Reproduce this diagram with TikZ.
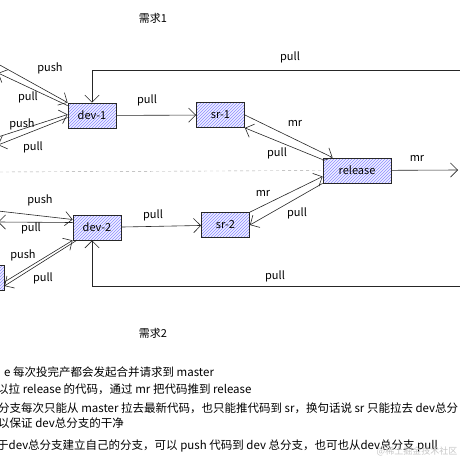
\documentclass[tikz,border=0pt]{standalone}
\usepackage{fontspec}
\setmainfont{Noto Sans CJK SC}
\usepackage{tikz}
\usetikzlibrary{arrows.meta,patterns}
\tikzset{>={Straight Barb[length=2.5mm]}}

\begin{document}
\begin{tikzpicture}[x=1pt,y=-1pt,
		branch/.style={rectangle, draw=black!85, thick, pattern=north east lines, pattern color=blue!45, preaction={fill=blue!6}, minimum width=48pt, minimum height=25pt, inner sep=0pt, font=\fontsize{11}{13}\selectfont},
		tag/.style={inner sep=0pt, font=\fontsize{11}{13}\selectfont},
		note/.style={anchor=west, inner sep=0pt, font=\fontsize{11.5}{13}\selectfont},
		flow/.style={black!85, semithick}]
		\useasboundingbox (0,0) rectangle (460,460);
		\node[branch] (1) at (92,115.5) {dev-1};
		\node[branch] (2) at (220.5,115) {sr-1};
		\node[branch, minimum width=68pt] (3) at (357,170.5) {release};
		\node[branch] (4) at (97,227.5) {dev-2};
		\node[branch] (5) at (225.5,225) {sr-2};
		\node[branch] (6) at (-20,278) {};
		\coordinate (7) at (462,70);
		\coordinate (8) at (462,286);
		\coordinate (9) at (458,170);
		\coordinate (10) at (0,172);
		\coordinate (11) at (-2,64);
		\coordinate (12) at (-2,73);
		\coordinate (13) at (-2,137);
		\coordinate (14) at (-2,145);
		\coordinate (15) at (-2,211);
		\coordinate (16) at (-2,222);
		\draw[gray!70, dashed] (10) -- (3.west);
		
		\draw[flow, ->] (7) -| (1);
		\draw[flow, ->] (8) -| ([xshift=-5pt]4.south);
		\path (1) edge[flow, ->] (2);
		\path (2.east) edge[flow, ->] ([xshift=10pt]3.north west);
		\path ([yshift=-2pt]3.north west) edge[flow, ->] (2.south east);
		\path (5.north east) edge[flow, ->] ([yshift=-6pt]3.west);
		\path (3.south west) edge[flow, ->] (5.east);
		\path (3) edge[flow, ->] (9);
		\path (4) edge[flow, ->] (5);
		\path (11) edge[flow, ->] (1.north west);
		\path ([yshift=-3pt]1.north west) edge[flow, ->] (12);
		\path (13) edge[flow, ->] ([yshift=1pt]1.west);
		\path ([yshift=-2pt]1.west) edge[flow, ->] (14);
		\path (15) edge[flow, ->] ([yshift=8pt]4.west);
		\path ([yshift=5pt]4.west) edge[flow, ->] (16);
		\path ([yshift=-4pt]6.east) edge[flow, ->] (4.south west);
		\path ([xshift=4pt]4.south west) edge[flow, ->] ([yshift=-8pt]6.east);
		
		\node[tag] (17) at (153,18) {需求1};
		\node[tag] (18) at (153,333) {需求2};
		\node[tag] (19) at (290,57) {pull};
		\node[tag] (20) at (147,100) {pull};
		\node[tag] (21) at (295,123) {mr};
		\node[tag] (22) at (277,153) {pull};
		\node[tag] (23) at (417,158) {mr};
		\node[tag] (24) at (263,193) {mr};
		\node[tag] (25) at (297,213) {pull};
		\node[tag] (26) at (153,215) {pull};
		\node[tag] (27) at (275,276) {pull};
		\node[tag] (28) at (50,68) {push};
		\node[tag] (29) at (28,97) {pull};
		\node[tag] (30) at (22,124) {push};
		\node[tag] (31) at (33,147) {pull};
		\node[tag] (32) at (40,200) {push};
		\node[tag] (33) at (31,228) {pull};
		\node[tag] (34) at (23,255) {push};
		\node[tag] (35) at (43,278) {pull};
		
		\node[note] (36) at (4,372) {e 每次投完产都会发起合并请求到 master};
		\node[note] (37) at (-3,389) {以拉 release 的代码，通过 mr 把代码推到 release};
		\node[note] (38) at (-2,408) {分支每次只能从 master 拉去最新代码，也只能推代码到 sr，换句话说 sr 只能拉去 dev总分};
		\node[note] (39) at (-2,423) {以保证 dev总分支的干净};
		\node[note] (40) at (-3,446) {于dev总分支建立自己的分支，可以 push 代码到 dev 总分支，也可也从dev总分支 pull};
		\node[tag, text=gray!45, font=\fontsize{9}{11}\selectfont] (41) at (417,451) {@稀土掘金技术社区};
		
	\end{tikzpicture}
\end{document}
